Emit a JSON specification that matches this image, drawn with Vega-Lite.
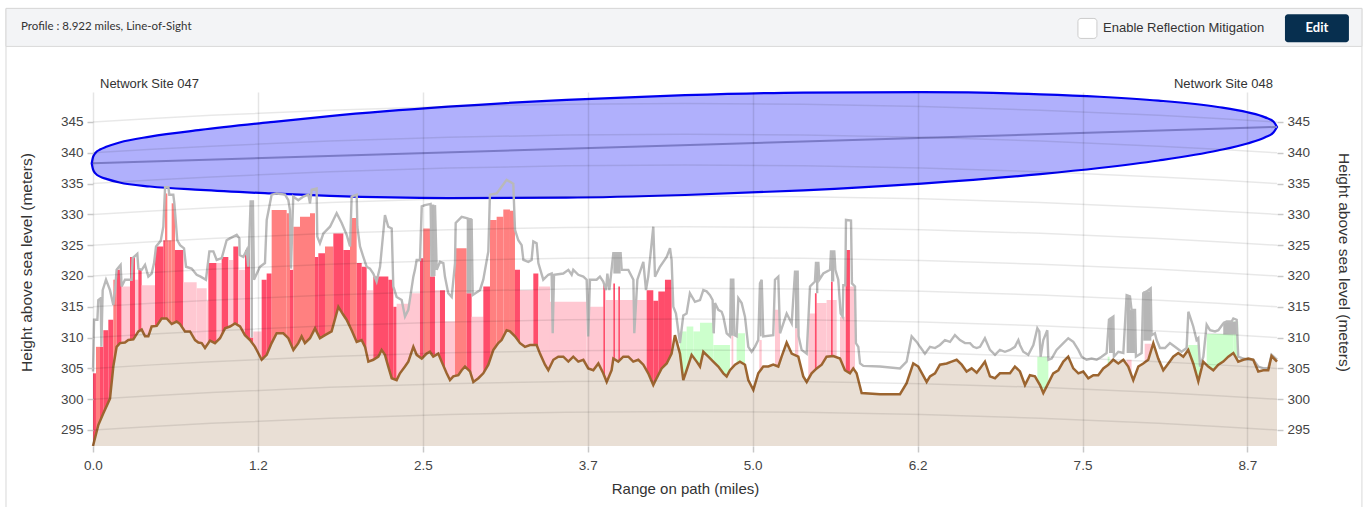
{
"$schema": "https://vega.github.io/schema/vega-lite/v6.json",
"width": 1184, "height": 354,
"autosize": {"type": "none"},
"padding": {"left": 93, "top": 92, "right": 89, "bottom": 61},
"background": "white",
"config": {"view": {"stroke": null}},
"datasets": {
"ground": [
{"d":0,"g":292.4},{"d":0.040,"g":295.8},{"d":0.078,"g":297.7},{"d":0.128,"g":300.1},{"d":0.153,"g":305.3},{"d":0.178,"g":308.5},{"d":0.203,"g":309.1},{"d":0.241,"g":309.2},{"d":0.266,"g":309.6},{"d":0.304,"g":309.7},{"d":0.342,"g":311.0},{"d":0.367,"g":311.3},{"d":0.392,"g":310.2},{"d":0.417,"g":310.2},{"d":0.442,"g":311.8},{"d":0.480,"g":311.9},{"d":0.517,"g":313.1},{"d":0.555,"g":313.1},{"d":0.593,"g":312.2},{"d":0.630,"g":312.6},{"d":0.656,"g":312.2},{"d":0.693,"g":311.0},{"d":0.731,"g":311.0},{"d":0.769,"g":309.6},{"d":0.794,"g":309.2},{"d":0.819,"g":309.1},{"d":0.844,"g":308.3},{"d":0.882,"g":309.5},{"d":0.919,"g":309.1},{"d":0.957,"g":309.9},{"d":0.995,"g":311.5},{"d":1.032,"g":311.8},{"d":1.070,"g":312.3},{"d":1.108,"g":311.8},{"d":1.145,"g":310.4},{"d":1.183,"g":309.6},{"d":1.221,"g":308.5},{"d":1.271,"g":306.4},{"d":1.309,"g":307.2},{"d":1.346,"g":309.1},{"d":1.384,"g":310.7},{"d":1.434,"g":310.7},{"d":1.472,"g":309.9},{"d":1.510,"g":308.0},{"d":1.547,"g":309.1},{"d":1.572,"g":310.2},{"d":1.597,"g":309.1},{"d":1.635,"g":309.9},{"d":1.673,"g":311.5},{"d":1.710,"g":309.9},{"d":1.748,"g":310.4},{"d":1.798,"g":311.0},{"d":1.849,"g":315.0},{"d":1.886,"g":313.7},{"d":1.911,"g":312.9},{"d":1.949,"g":311.2},{"d":1.987,"g":309.3},{"d":2.024,"g":309.6},{"d":2.050,"g":308.5},{"d":2.075,"g":306.1},{"d":2.112,"g":306.4},{"d":2.150,"g":306.9},{"d":2.175,"g":308.0},{"d":2.200,"g":307.2},{"d":2.225,"g":305.3},{"d":2.251,"g":303.4},{"d":2.288,"g":303.1},{"d":2.313,"g":304.2},{"d":2.351,"g":305.3},{"d":2.376,"g":306.1},{"d":2.414,"g":308.5},{"d":2.439,"g":307.2},{"d":2.477,"g":306.6},{"d":2.514,"g":307.4},{"d":2.539,"g":307.7},{"d":2.564,"g":306.9},{"d":2.602,"g":307.4},{"d":2.627,"g":306.1},{"d":2.665,"g":304.2},{"d":2.690,"g":303.1},{"d":2.715,"g":303.7},{"d":2.753,"g":303.9},{"d":2.778,"g":304.7},{"d":2.803,"g":305.3},{"d":2.841,"g":304.5},{"d":2.866,"g":302.8},{"d":2.904,"g":303.4},{"d":2.941,"g":304.2},{"d":2.979,"g":305.6},{"d":3.017,"g":308.0},{"d":3.054,"g":309.1},{"d":3.079,"g":309.6},{"d":3.117,"g":311.2},{"d":3.142,"g":311.0},{"d":3.180,"g":310.2},{"d":3.218,"g":309.1},{"d":3.255,"g":308.5},{"d":3.293,"g":308.8},{"d":3.343,"g":308.8},{"d":3.368,"g":307.4},{"d":3.406,"g":305.6},{"d":3.431,"g":304.7},{"d":3.469,"g":306.4},{"d":3.506,"g":306.9},{"d":3.544,"g":306.9},{"d":3.582,"g":306.1},{"d":3.619,"g":306.9},{"d":3.657,"g":306.1},{"d":3.695,"g":306.4},{"d":3.732,"g":305.0},{"d":3.770,"g":304.7},{"d":3.808,"g":305.8},{"d":3.845,"g":304.2},{"d":3.871,"g":302.8},{"d":3.908,"g":304.7},{"d":3.921,"g":306.6},{"d":3.958,"g":306.1},{"d":3.996,"g":306.9},{"d":4.034,"g":306.9},{"d":4.071,"g":306.1},{"d":4.109,"g":306.4},{"d":4.147,"g":305.6},{"d":4.184,"g":304.2},{"d":4.222,"g":302.3},{"d":4.247,"g":303.4},{"d":4.285,"g":305.0},{"d":4.323,"g":305.8},{"d":4.360,"g":307.4},{"d":4.385,"g":310.4},{"d":4.423,"g":307.4},{"d":4.448,"g":303.1},{"d":4.473,"g":304.7},{"d":4.511,"g":307.2},{"d":4.549,"g":306.1},{"d":4.574,"g":305.3},{"d":4.599,"g":307.7},{"d":4.637,"g":306.9},{"d":4.674,"g":306.1},{"d":4.712,"g":305.3},{"d":4.750,"g":304.2},{"d":4.775,"g":303.7},{"d":4.800,"g":304.7},{"d":4.838,"g":305.6},{"d":4.875,"g":306.1},{"d":4.913,"g":305.6},{"d":4.938,"g":303.1},{"d":4.976,"g":301.5},{"d":5.013,"g":304.2},{"d":5.051,"g":305.3},{"d":5.089,"g":305.3},{"d":5.126,"g":305.6},{"d":5.164,"g":305.3},{"d":5.189,"g":306.9},{"d":5.227,"g":309.2},{"d":5.265,"g":307.4},{"d":5.315,"g":306.9},{"d":5.352,"g":303.7},{"d":5.378,"g":302.8},{"d":5.415,"g":304.2},{"d":5.453,"g":305.0},{"d":5.491,"g":305.6},{"d":5.528,"g":306.9},{"d":5.578,"g":307.0},{"d":5.629,"g":306.6},{"d":5.666,"g":304.7},{"d":5.704,"g":304.2},{"d":5.729,"g":305.0},{"d":5.754,"g":304.2},{"d":5.792,"g":301.0},{"d":5.930,"g":300.8},{"d":6.081,"g":300.8},{"d":6.131,"g":302.6},{"d":6.181,"g":305.8},{"d":6.219,"g":305.3},{"d":6.282,"g":302.8},{"d":6.307,"g":303.7},{"d":6.345,"g":304.2},{"d":6.382,"g":305.6},{"d":6.433,"g":305.8},{"d":6.470,"g":306.1},{"d":6.508,"g":306.4},{"d":6.546,"g":305.6},{"d":6.583,"g":304.5},{"d":6.621,"g":305.0},{"d":6.659,"g":304.3},{"d":6.684,"g":305.0},{"d":6.721,"g":306.1},{"d":6.759,"g":303.7},{"d":6.797,"g":303.4},{"d":6.834,"g":304.2},{"d":6.872,"g":304.2},{"d":6.910,"g":304.2},{"d":6.947,"g":305.3},{"d":6.985,"g":304.5},{"d":7.023,"g":302.3},{"d":7.060,"g":303.9},{"d":7.098,"g":303.7},{"d":7.136,"g":302.3},{"d":7.161,"g":301.0},{"d":7.199,"g":302.6},{"d":7.236,"g":304.2},{"d":7.274,"g":304.7},{"d":7.312,"g":306.1},{"d":7.349,"g":306.9},{"d":7.387,"g":305.0},{"d":7.425,"g":304.2},{"d":7.462,"g":304.5},{"d":7.500,"g":303.4},{"d":7.538,"g":303.9},{"d":7.575,"g":303.9},{"d":7.613,"g":305.0},{"d":7.651,"g":305.6},{"d":7.688,"g":306.4},{"d":7.726,"g":305.8},{"d":7.764,"g":306.4},{"d":7.801,"g":305.3},{"d":7.839,"g":303.1},{"d":7.877,"g":305.3},{"d":7.914,"g":305.8},{"d":7.952,"g":306.4},{"d":7.990,"g":309.1},{"d":8.027,"g":306.6},{"d":8.065,"g":304.7},{"d":8.103,"g":305.8},{"d":8.140,"g":306.9},{"d":8.178,"g":307.5},{"d":8.216,"g":306.9},{"d":8.253,"g":308.0},{"d":8.291,"g":305.8},{"d":8.329,"g":302.9},{"d":8.366,"g":306.1},{"d":8.404,"g":305.3},{"d":8.442,"g":304.7},{"d":8.480,"g":305.6},{"d":8.517,"g":306.1},{"d":8.555,"g":306.9},{"d":8.593,"g":307.5},{"d":8.630,"g":306.1},{"d":8.668,"g":306.4},{"d":8.706,"g":306.6},{"d":8.743,"g":306.4},{"d":8.781,"g":304.5},{"d":8.819,"g":304.7},{"d":8.856,"g":304.7},{"d":8.881,"g":307.0},{"d":8.922,"g":306.1}
],
"clutter": [
{"d":0.000,"c":304.5},{"d":0.008,"c":312.9},{"d":0.033,"c":312.9},{"d":0.040,"c":316.1},{"d":0.058,"c":316.4},{"d":0.063,"c":308.5},{"d":0.073,"c":317.7},{"d":0.098,"c":319.4},{"d":0.128,"c":317.7},{"d":0.153,"c":315.3},{"d":0.166,"c":317.7},{"d":0.178,"c":321.0},{"d":0.208,"c":321.8},{"d":0.216,"c":318.3},{"d":0.241,"c":319.4},{"d":0.291,"c":319.4},{"d":0.299,"c":322.9},{"d":0.334,"c":323.6},{"d":0.342,"c":321.2},{"d":0.367,"c":321.0},{"d":0.392,"c":321.8},{"d":0.417,"c":319.9},{"d":0.442,"c":320.4},{"d":0.460,"c":322.1},{"d":0.475,"c":324.8},{"d":0.510,"c":325.7},{"d":0.530,"c":328.0},{"d":0.543,"c":334.4},{"d":0.568,"c":334.4},{"d":0.575,"c":333.2},{"d":0.605,"c":333.2},{"d":0.613,"c":331.8},{"d":0.635,"c":325.8},{"d":0.656,"c":325.0},{"d":0.686,"c":324.5},{"d":0.701,"c":321.5},{"d":0.743,"c":321.2},{"d":0.781,"c":320.2},{"d":0.811,"c":319.9},{"d":0.851,"c":319.4},{"d":0.877,"c":324.0},{"d":0.907,"c":324.0},{"d":0.932,"c":322.6},{"d":0.970,"c":322.9},{"d":1.007,"c":325.8},{"d":1.032,"c":326.1},{"d":1.083,"c":326.7},{"d":1.103,"c":326.1},{"d":1.105,"c":323.4},{"d":1.133,"c":323.1},{"d":1.158,"c":324.2},{"d":1.170,"c":321.5},{"d":1.188,"c":332.1},{"d":1.205,"c":332.1},{"d":1.213,"c":319.4},{"d":1.258,"c":321.5},{"d":1.296,"c":322.1},{"d":1.309,"c":329.1},{"d":1.346,"c":333.2},{"d":1.384,"c":333.4},{"d":1.447,"c":333.2},{"d":1.472,"c":332.3},{"d":1.484,"c":330.7},{"d":1.492,"c":321.2},{"d":1.509,"c":332.9},{"d":1.547,"c":332.3},{"d":1.585,"c":332.9},{"d":1.623,"c":333.2},{"d":1.635,"c":331.8},{"d":1.648,"c":334.0},{"d":1.685,"c":334.2},{"d":1.690,"c":326.4},{"d":1.710,"c":325.3},{"d":1.736,"c":326.9},{"d":1.786,"c":328.0},{"d":1.811,"c":329.1},{"d":1.836,"c":330.2},{"d":1.874,"c":328.6},{"d":1.911,"c":326.7},{"d":1.937,"c":324.8},{"d":1.949,"c":332.9},{"d":1.987,"c":333.2},{"d":1.992,"c":328.0},{"d":2.012,"c":324.8},{"d":2.037,"c":323.1},{"d":2.062,"c":321.5},{"d":2.087,"c":321.2},{"d":2.112,"c":320.4},{"d":2.137,"c":319.1},{"d":2.163,"c":321.5},{"d":2.200,"c":329.9},{"d":2.225,"c":328.0},{"d":2.251,"c":327.7},{"d":2.263,"c":318.3},{"d":2.288,"c":316.6},{"d":2.326,"c":316.1},{"d":2.351,"c":313.4},{"d":2.376,"c":314.5},{"d":2.414,"c":319.9},{"d":2.426,"c":321.0},{"d":2.439,"c":322.6},{"d":2.464,"c":322.6},{"d":2.477,"c":331.3},{"d":2.502,"c":331.5},{"d":2.544,"c":331.7},{"d":2.552,"c":320.2},{"d":2.572,"c":320.2},{"d":2.577,"c":331.5},{"d":2.590,"c":321.0},{"d":2.615,"c":322.3},{"d":2.640,"c":322.1},{"d":2.652,"c":319.9},{"d":2.677,"c":317.2},{"d":2.703,"c":316.6},{"d":2.728,"c":322.1},{"d":2.733,"c":328.6},{"d":2.778,"c":329.6},{"d":2.816,"c":329.4},{"d":2.853,"c":329.1},{"d":2.861,"c":316.9},{"d":2.916,"c":317.7},{"d":2.941,"c":319.4},{"d":2.979,"c":324.0},{"d":2.991,"c":333.2},{"d":3.042,"c":333.4},{"d":3.079,"c":334.5},{"d":3.117,"c":335.6},{"d":3.167,"c":335.0},{"d":3.180,"c":327.5},{"d":3.205,"c":325.8},{"d":3.230,"c":325.0},{"d":3.243,"c":322.6},{"d":3.280,"c":322.3},{"d":3.305,"c":322.6},{"d":3.318,"c":325.6},{"d":3.343,"c":325.3},{"d":3.356,"c":322.1},{"d":3.393,"c":319.4},{"d":3.431,"c":320.2},{"d":3.456,"c":320.4},{"d":3.464,"c":310.7},{"d":3.474,"c":320.2},{"d":3.544,"c":320.4},{"d":3.582,"c":321.0},{"d":3.607,"c":320.2},{"d":3.619,"c":321.0},{"d":3.657,"c":320.2},{"d":3.695,"c":319.9},{"d":3.720,"c":319.4},{"d":3.732,"c":310.2},{"d":3.745,"c":319.4},{"d":3.795,"c":319.4},{"d":3.820,"c":319.9},{"d":3.845,"c":319.1},{"d":3.866,"c":317.7},{"d":3.876,"c":320.4},{"d":3.891,"c":317.7},{"d":3.921,"c":323.7},{"d":3.976,"c":323.7},{"d":3.984,"c":321.0},{"d":4.034,"c":321.0},{"d":4.072,"c":319.4},{"d":4.079,"c":310.7},{"d":4.102,"c":319.4},{"d":4.147,"c":322.3},{"d":4.167,"c":317.7},{"d":4.184,"c":319.9},{"d":4.222,"c":328.0},{"d":4.235,"c":319.9},{"d":4.272,"c":321.5},{"d":4.323,"c":323.1},{"d":4.348,"c":324.5},{"d":4.360,"c":322.6},{"d":4.373,"c":315.0},{"d":4.393,"c":313.9},{"d":4.423,"c":309.1},{"d":4.448,"c":313.6},{"d":4.473,"c":313.9},{"d":4.498,"c":317.2},{"d":4.536,"c":315.8},{"d":4.574,"c":316.1},{"d":4.599,"c":317.7},{"d":4.624,"c":317.5},{"d":4.649,"c":316.9},{"d":4.669,"c":316.1},{"d":4.677,"c":310.7},{"d":4.687,"c":315.6},{"d":4.712,"c":314.5},{"d":4.737,"c":314.2},{"d":4.750,"c":313.4},{"d":4.775,"c":310.7},{"d":4.800,"c":310.2},{"d":4.807,"c":319.4},{"d":4.825,"c":319.4},{"d":4.833,"c":310.4},{"d":4.850,"c":310.2},{"d":4.863,"c":316.4},{"d":4.888,"c":315.6},{"d":4.913,"c":313.4},{"d":4.938,"c":308.5},{"d":4.963,"c":307.7},{"d":4.988,"c":308.5},{"d":5.013,"c":309.6},{"d":5.026,"c":318.8},{"d":5.039,"c":319.4},{"d":5.051,"c":310.2},{"d":5.126,"c":310.4},{"d":5.139,"c":319.4},{"d":5.164,"c":319.9},{"d":5.177,"c":310.7},{"d":5.227,"c":313.9},{"d":5.265,"c":312.3},{"d":5.290,"c":320.7},{"d":5.310,"c":320.7},{"d":5.317,"c":310.2},{"d":5.340,"c":308.0},{"d":5.378,"c":307.4},{"d":5.403,"c":318.3},{"d":5.440,"c":319.1},{"d":5.448,"c":322.1},{"d":5.466,"c":322.1},{"d":5.473,"c":319.4},{"d":5.503,"c":320.4},{"d":5.554,"c":321.0},{"d":5.561,"c":324.0},{"d":5.586,"c":324.0},{"d":5.594,"c":321.0},{"d":5.616,"c":319.4},{"d":5.634,"c":313.9},{"d":5.649,"c":313.4},{"d":5.654,"c":318.5},{"d":5.669,"c":318.5},{"d":5.674,"c":329.1},{"d":5.712,"c":329.0},{"d":5.719,"c":318.8},{"d":5.742,"c":318.3},{"d":5.749,"c":309.1},{"d":5.767,"c":308.5},{"d":5.780,"c":305.8},{"d":5.805,"c":305.4},{"d":5.930,"c":305.3},{"d":6.081,"c":305.0},{"d":6.131,"c":306.1},{"d":6.169,"c":310.2},{"d":6.207,"c":309.3},{"d":6.232,"c":308.5},{"d":6.269,"c":307.4},{"d":6.307,"c":308.5},{"d":6.345,"c":308.3},{"d":6.382,"c":308.8},{"d":6.420,"c":309.6},{"d":6.458,"c":309.3},{"d":6.495,"c":310.4},{"d":6.533,"c":309.6},{"d":6.571,"c":309.1},{"d":6.609,"c":309.1},{"d":6.634,"c":308.5},{"d":6.659,"c":308.3},{"d":6.684,"c":308.5},{"d":6.721,"c":309.9},{"d":6.759,"c":308.0},{"d":6.797,"c":307.2},{"d":6.834,"c":308.0},{"d":6.872,"c":307.7},{"d":6.910,"c":308.0},{"d":6.947,"c":308.5},{"d":6.973,"c":309.6},{"d":6.985,"c":308.8},{"d":7.010,"c":307.7},{"d":7.048,"c":307.2},{"d":7.086,"c":308.8},{"d":7.116,"c":311.5},{"d":7.131,"c":311.0},{"d":7.141,"c":306.9},{"d":7.161,"c":309.6},{"d":7.191,"c":311.2},{"d":7.199,"c":306.4},{"d":7.224,"c":306.6},{"d":7.261,"c":308.0},{"d":7.312,"c":309.1},{"d":7.349,"c":309.9},{"d":7.387,"c":309.3},{"d":7.425,"c":308.0},{"d":7.450,"c":306.9},{"d":7.487,"c":306.4},{"d":7.525,"c":306.6},{"d":7.563,"c":306.4},{"d":7.600,"c":306.9},{"d":7.638,"c":307.5},{"d":7.656,"c":312.9},{"d":7.689,"c":313.4},{"d":7.693,"c":306.9},{"d":7.726,"c":307.7},{"d":7.764,"c":307.5},{"d":7.789,"c":316.9},{"d":7.814,"c":316.7},{"d":7.826,"c":314.5},{"d":7.852,"c":314.5},{"d":7.859,"c":306.9},{"d":7.902,"c":307.5},{"d":7.914,"c":317.2},{"d":7.940,"c":317.5},{"d":7.970,"c":318.0},{"d":7.977,"c":310.4},{"d":8.002,"c":310.7},{"d":8.015,"c":309.6},{"d":8.040,"c":308.3},{"d":8.078,"c":308.3},{"d":8.115,"c":309.1},{"d":8.153,"c":308.5},{"d":8.203,"c":307.7},{"d":8.241,"c":308.3},{"d":8.254,"c":314.2},{"d":8.279,"c":312.6},{"d":8.291,"c":311.8},{"d":8.316,"c":309.6},{"d":8.329,"c":309.9},{"d":8.342,"c":305.3},{"d":8.367,"c":306.9},{"d":8.392,"c":312.1},{"d":8.417,"c":311.2},{"d":8.455,"c":311.0},{"d":8.480,"c":311.2},{"d":8.517,"c":312.3},{"d":8.542,"c":312.6},{"d":8.580,"c":312.6},{"d":8.593,"c":313.1},{"d":8.618,"c":312.9},{"d":8.630,"c":306.9},{"d":8.668,"c":306.6},{"d":8.706,"c":306.4},{"d":8.743,"c":306.4},{"d":8.781,"c":305.3},{"d":8.819,"c":305.0},{"d":8.856,"c":305.0},{"d":8.881,"c":307.2},{"d":8.922,"c":306.4}
],
"fill": [
{"d1":0,"d2":0.0226,"t":304.2,"b":292.4,"k":"R"},{"d1":0.0226,"d2":0.0527,"t":308.5,"b":292.4,"k":"S"},{"d1":0.0527,"d2":0.0779,"t":308.5,"b":292.4,"k":"R"},{"d1":0.0779,"d2":0.1155,"t":311.2,"b":292.4,"k":"R"},{"d1":0.1155,"d2":0.1532,"t":312.9,"b":292.4,"k":"R"},{"d1":0.1532,"d2":0.1783,"t":319.4,"b":292.4,"k":"S"},{"d1":0.1783,"d2":0.2160,"t":321.0,"b":292.4,"k":"R"},{"d1":0.2160,"d2":0.2788,"t":318.3,"b":292.4,"k":"P"},{"d1":0.2788,"d2":0.3165,"t":323.1,"b":292.4,"k":"R"},{"d1":0.3165,"d2":0.3416,"t":319.4,"b":292.4,"k":"P"},{"d1":0.3416,"d2":0.3667,"t":321.0,"b":292.4,"k":"R"},{"d1":0.3667,"d2":0.4672,"t":318.5,"b":292.4,"k":"P"},{"d1":0.4672,"d2":0.5300,"t":324.8,"b":292.4,"k":"R"},{"d1":0.5300,"d2":0.5425,"t":325.8,"b":292.4,"k":"R"},{"d1":0.5425,"d2":0.5601,"t":333.4,"b":292.4,"k":"S"},{"d1":0.5601,"d2":0.5677,"t":325.8,"b":292.4,"k":"R"},{"d1":0.5677,"d2":0.5928,"t":325.8,"b":292.4,"k":"S"},{"d1":0.5928,"d2":0.6179,"t":331.8,"b":292.4,"k":"S"},{"d1":0.6179,"d2":0.6807,"t":324.2,"b":292.4,"k":"R"},{"d1":0.6807,"d2":0.7811,"t":319.0,"b":292.4,"k":"P"},{"d1":0.7811,"d2":0.8565,"t":318.0,"b":292.4,"k":"P"},{"d1":0.8565,"d2":0.8691,"t":316.0,"b":292.4,"k":"P"},{"d1":0.8691,"d2":0.9319,"t":322.1,"b":292.4,"k":"R"},{"d1":0.9319,"d2":0.9695,"t":322.1,"b":292.4,"k":"P"},{"d1":0.9695,"d2":1.0198,"t":323.1,"b":292.4,"k":"R"},{"d1":1.0198,"d2":1.0574,"t":322.6,"b":292.4,"k":"P"},{"d1":1.0574,"d2":1.0951,"t":324.8,"b":292.4,"k":"R"},{"d1":1.0951,"d2":1.1454,"t":321.0,"b":292.4,"k":"P"},{"d1":1.1454,"d2":1.1830,"t":324.2,"b":292.4,"k":"R"},{"d1":1.1830,"d2":1.2081,"t":310.0,"b":292.4,"k":"R"},{"d1":1.2081,"d2":1.2709,"t":311.0,"b":292.4,"k":"P"},{"d1":1.2709,"d2":1.3086,"t":319.4,"b":292.4,"k":"R"},{"d1":1.3086,"d2":1.3463,"t":320.4,"b":292.4,"k":"R"},{"d1":1.3463,"d2":1.4091,"t":330.7,"b":292.4,"k":"S"},{"d1":1.4091,"d2":1.4593,"t":330.7,"b":292.4,"k":"S"},{"d1":1.4593,"d2":1.4845,"t":330.2,"b":292.4,"k":"S"},{"d1":1.4845,"d2":1.5096,"t":321.0,"b":292.4,"k":"R"},{"d1":1.5096,"d2":1.5598,"t":328.0,"b":292.4,"k":"S"},{"d1":1.5598,"d2":1.6352,"t":329.6,"b":292.4,"k":"S"},{"d1":1.6352,"d2":1.6728,"t":330.2,"b":292.4,"k":"S"},{"d1":1.6728,"d2":1.6979,"t":323.1,"b":292.4,"k":"R"},{"d1":1.6979,"d2":1.7482,"t":323.7,"b":292.4,"k":"R"},{"d1":1.7482,"d2":1.8110,"t":324.8,"b":292.4,"k":"S"},{"d1":1.8110,"d2":1.8863,"t":326.9,"b":292.4,"k":"R"},{"d1":1.8863,"d2":1.9366,"t":324.2,"b":292.4,"k":"R"},{"d1":1.9366,"d2":1.9868,"t":329.4,"b":292.4,"k":"S"},{"d1":1.9868,"d2":2.0245,"t":322.1,"b":292.4,"k":"R"},{"d1":2.0245,"d2":2.0622,"t":321.5,"b":292.4,"k":"R"},{"d1":2.0622,"d2":2.1124,"t":317.7,"b":292.4,"k":"P"},{"d1":2.1124,"d2":2.2254,"t":319.9,"b":292.4,"k":"R"},{"d1":2.2254,"d2":2.2631,"t":319.4,"b":292.4,"k":"R"},{"d1":2.2631,"d2":2.2882,"t":315.0,"b":292.4,"k":"R"},{"d1":2.2882,"d2":2.3886,"t":315.5,"b":292.4,"k":"P"},{"d1":2.3886,"d2":2.4640,"t":317.2,"b":292.4,"k":"P"},{"d1":2.4640,"d2":2.4891,"t":322.9,"b":292.4,"k":"R"},{"d1":2.4891,"d2":2.5394,"t":327.7,"b":292.4,"k":"S"},{"d1":2.5394,"d2":2.5770,"t":319.9,"b":292.4,"k":"R"},{"d1":2.5770,"d2":2.6147,"t":317.7,"b":292.4,"k":"P"},{"d1":2.6147,"d2":2.6524,"t":317.7,"b":292.4,"k":"R"},{"d1":2.6524,"d2":2.7277,"t":312.6,"b":292.4,"k":"P"},{"d1":2.7277,"d2":2.8156,"t":324.5,"b":292.4,"k":"S"},{"d1":2.8156,"d2":2.8533,"t":317.2,"b":292.4,"k":"R"},{"d1":2.8533,"d2":2.9412,"t":313.4,"b":292.4,"k":"P"},{"d1":2.9412,"d2":2.9915,"t":318.3,"b":292.4,"k":"R"},{"d1":2.9915,"d2":3.0417,"t":329.1,"b":292.4,"k":"S"},{"d1":3.0417,"d2":3.0919,"t":329.6,"b":292.4,"k":"S"},{"d1":3.0919,"d2":3.1421,"t":330.8,"b":292.4,"k":"S"},{"d1":3.1421,"d2":3.1798,"t":330.6,"b":292.4,"k":"S"},{"d1":3.1798,"d2":3.2175,"t":321.0,"b":292.4,"k":"R"},{"d1":3.2175,"d2":3.3180,"t":317.7,"b":292.4,"k":"P"},{"d1":3.3180,"d2":3.3557,"t":320.4,"b":292.4,"k":"R"},{"d1":3.3557,"d2":3.4436,"t":318.3,"b":292.4,"k":"P"},{"d1":3.4436,"d2":3.7199,"t":315.8,"b":292.4,"k":"P"},{"d1":3.7199,"d2":3.8454,"t":315.0,"b":292.4,"k":"P"},{"d1":3.8454,"d2":3.8600,"t":318.8,"b":292.4,"k":"R"},{"d1":3.8600,"d2":3.9208,"t":316.1,"b":292.4,"k":"P"},{"d1":3.9208,"d2":3.9334,"t":318.8,"b":292.4,"k":"R"},{"d1":3.9334,"d2":3.9584,"t":316.1,"b":292.4,"k":"P"},{"d1":3.9584,"d2":3.9710,"t":318.3,"b":292.4,"k":"R"},{"d1":3.9710,"d2":4.1720,"t":316.1,"b":292.4,"k":"P"},{"d1":4.1720,"d2":4.2222,"t":317.7,"b":292.4,"k":"R"},{"d1":4.2222,"d2":4.2600,"t":316.0,"b":292.4,"k":"R"},{"d1":4.2600,"d2":4.3100,"t":317.5,"b":292.4,"k":"R"},{"d1":4.3100,"d2":4.3604,"t":319.4,"b":292.4,"k":"R"},{"d1":4.4232,"d2":4.4734,"t":311.0,"b":292.4,"k":"G"},{"d1":4.4734,"d2":4.5237,"t":311.8,"b":292.4,"k":"G"},{"d1":4.5237,"d2":4.5739,"t":311.0,"b":292.4,"k":"G"},{"d1":4.5739,"d2":4.6744,"t":312.4,"b":292.4,"k":"G"},{"d1":4.6744,"d2":4.7997,"t":308.8,"b":292.4,"k":"G"},{"d1":4.8116,"d2":4.8250,"t":310.3,"b":292.4,"k":"P"},{"d1":4.8500,"d2":4.9130,"t":310.7,"b":292.4,"k":"G"},{"d1":5.0210,"d2":5.0390,"t":309.6,"b":292.4,"k":"P"},{"d1":5.1390,"d2":5.1770,"t":314.5,"b":292.4,"k":"P"},{"d1":5.2900,"d2":5.3150,"t":311.5,"b":292.4,"k":"P"},{"d1":5.3900,"d2":5.4530,"t":313.9,"b":292.4,"k":"P"},{"d1":5.4530,"d2":5.5280,"t":315.6,"b":292.4,"k":"P"},{"d1":5.5280,"d2":5.6040,"t":316.1,"b":292.4,"k":"P"},{"d1":5.4400,"d2":5.4530,"t":317.2,"b":292.4,"k":"R"},{"d1":5.5610,"d2":5.5740,"t":319.1,"b":292.4,"k":"R"},{"d1":5.6290,"d2":5.6660,"t":313.4,"b":292.4,"k":"P"},{"d1":5.6710,"d2":5.7040,"t":324.2,"b":292.4,"k":"R"},{"d1":5.7040,"d2":5.7420,"t":318.3,"b":292.4,"k":"P"},{"d1":7.116,"d2":7.199,"t":306.9,"b":292.4,"k":"G"},{"d1":7.646,"d2":7.660,"t":306.9,"b":292.4,"k":"G"},{"d1":7.789,"d2":7.826,"t":306.4,"b":292.4,"k":"P"},{"d1":7.925,"d2":7.977,"t":309.0,"b":292.4,"k":"P"},{"d1":8.254,"d2":8.342,"t":308.8,"b":292.4,"k":"G"},{"d1":8.392,"d2":8.593,"t":310.6,"b":292.4,"k":"G"},{"d1":8.593,"d2":8.630,"t":312.6,"b":292.4,"k":"G"},
{"d1":1.188,"d2":1.205,"t":332.1,"b":310.0,"k":"Y"},{"d1":2.544,"d2":2.572,"t":331.6,"b":319.9,"k":"Y"},{"d1":2.816,"d2":2.853,"t":329.4,"b":317.2,"k":"Y"},{"d1":3.921,"d2":3.976,"t":323.7,"b":320.4,"k":"Y"},{"d1":4.674,"d2":4.687,"t":315.6,"b":310.7,"k":"Y"},{"d1":4.807,"d2":4.825,"t":319.3,"b":310.3,"k":"Y"},{"d1":5.026,"d2":5.039,"t":319.3,"b":310.2,"k":"Y"},{"d1":5.290,"d2":5.310,"t":320.7,"b":311.5,"k":"Y"},{"d1":5.448,"d2":5.466,"t":322.0,"b":317.2,"k":"Y"},{"d1":5.561,"d2":5.586,"t":323.9,"b":319.1,"k":"Y"},{"d1":7.656,"d2":7.693,"t":313.2,"b":307.5,"k":"Y"},{"d1":7.789,"d2":7.814,"t":316.8,"b":307.5,"k":"Y"},{"d1":7.814,"d2":7.855,"t":314.5,"b":307.5,"k":"Y"},{"d1":7.914,"d2":7.975,"t":317.5,"b":309.5,"k":"Y"},{"d1":8.517,"d2":8.618,"t":312.6,"b":310.5,"k":"Y"}
],
"zone": [
{"d":-0.01,"hi":338.29,"lo":338.29},{"d":0,"hi":339.3,"lo":337.3},{"d":0.02,"hi":340.01,"lo":336.61},{"d":0.053,"hi":340.53,"lo":336.13},{"d":0.1,"hi":340.97,"lo":335.77},{"d":0.2,"hi":341.68,"lo":335.18},{"d":0.43,"hi":342.63,"lo":334.53},{"d":0.81,"hi":343.71,"lo":333.97},{"d":1.338,"hi":344.97,"lo":333.40},{"d":1.784,"hi":345.96,"lo":333.00},{"d":2.677,"hi":347.49,"lo":332.65},{"d":3.569,"hi":348.60,"lo":332.72},{"d":4.461,"hi":349.35,"lo":333.15},{"d":5.353,"hi":349.78,"lo":333.90},{"d":6.245,"hi":349.85,"lo":335.01},{"d":7.138,"hi":349.50,"lo":336.54},{"d":7.584,"hi":349.10,"lo":337.53},{"d":8.030,"hi":348.47,"lo":338.75},{"d":8.476,"hi":347.44,"lo":340.37},{"d":8.699,"hi":346.58,"lo":341.52},{"d":8.833,"hi":345.75,"lo":342.53},{"d":8.895,"hi":345.07,"lo":343.29},{"d":8.922,"hi":344.2,"lo":344.2}
],
"los": [{"d":0,"v":338.3},{"d":8.922,"v":344.2}],
"curves": [
{"d":0,"g295":295,"g300":300,"g305":305,"g310":310,"g315":315,"g320":320,"g325":325,"g330":330,"g335":335,"g340":340,"g345":345},
{"d":0.446,"g295":295.57,"g300":300.57,"g305":305.57,"g310":310.57,"g315":315.57,"g320":320.57,"g325":325.57,"g330":330.57,"g335":335.57,"g340":340.57,"g345":345.57},
{"d":0.892,"g295":296.08,"g300":301.08,"g305":306.08,"g310":311.08,"g315":316.08,"g320":321.08,"g325":326.08,"g330":331.08,"g335":336.08,"g340":341.08,"g345":346.08},
{"d":1.784,"g295":296.92,"g300":301.92,"g305":306.92,"g310":311.92,"g315":316.92,"g320":321.92,"g325":326.92,"g330":331.92,"g335":336.92,"g340":341.92,"g345":346.92},
{"d":2.677,"g295":297.52,"g300":302.52,"g305":307.52,"g310":312.52,"g315":317.52,"g320":322.52,"g325":327.52,"g330":332.52,"g335":337.52,"g340":342.52,"g345":347.52},
{"d":3.569,"g295":297.88,"g300":302.88,"g305":307.88,"g310":312.88,"g315":317.88,"g320":322.88,"g325":327.88,"g330":332.88,"g335":337.88,"g340":342.88,"g345":347.88},
{"d":4.461,"g295":298.0,"g300":303.0,"g305":308.0,"g310":313.0,"g315":318.0,"g320":323.0,"g325":328.0,"g330":333.0,"g335":338.0,"g340":343.0,"g345":348.0},
{"d":5.353,"g295":297.88,"g300":302.88,"g305":307.88,"g310":312.88,"g315":317.88,"g320":322.88,"g325":327.88,"g330":332.88,"g335":337.88,"g340":342.88,"g345":347.88},
{"d":6.245,"g295":297.52,"g300":302.52,"g305":307.52,"g310":312.52,"g315":317.52,"g320":322.52,"g325":327.52,"g330":332.52,"g335":337.52,"g340":342.52,"g345":347.52},
{"d":7.138,"g295":296.92,"g300":301.92,"g305":306.92,"g310":311.92,"g315":316.92,"g320":321.92,"g325":326.92,"g330":331.92,"g335":336.92,"g340":341.92,"g345":346.92},
{"d":8.030,"g295":296.08,"g300":301.08,"g305":306.08,"g310":311.08,"g315":316.08,"g320":321.08,"g325":326.08,"g330":331.08,"g335":336.08,"g340":341.08,"g345":346.08},
{"d":8.476,"g295":295.57,"g300":300.57,"g305":305.57,"g310":310.57,"g315":315.57,"g320":320.57,"g325":325.57,"g330":330.57,"g335":335.57,"g340":340.57,"g345":345.57},
{"d":8.922,"g295":295,"g300":300,"g305":305,"g310":310,"g315":315,"g320":320,"g325":325,"g330":330,"g335":335,"g340":340,"g345":345}
],
"one": [{}]
},
"layer": [
{"data":{"name":"one"},"mark":{"type":"rect","fill":null,"fillOpacity":0,"stroke":"#d9d9d9","strokeWidth":1},
 "encoding":{"x":{"datum":-0.6556,"type":"quantitative","scale":{"domain":[0,8.922],"nice":false,"zero":false},"axis":null},"x2":{"datum":9.562},
 "y":{"datum":363.44,"type":"quantitative","scale":{"domain":[292.4,349.87],"nice":false,"zero":false},"axis":null},"y2":{"datum":280}}},
{"data":{"name":"one"},"mark":{"type":"rect","fill":"#f3f4f6","stroke":"#d9d9d9","strokeWidth":1},
 "encoding":{"x":{"datum":-0.6556,"type":"quantitative","scale":{"domain":[0,8.922],"nice":false,"zero":false},"axis":null},"x2":{"datum":9.562},
 "y":{"datum":363.44,"type":"quantitative","scale":{"domain":[292.4,349.87],"nice":false,"zero":false},"axis":null},"y2":{"datum":357.27}}},
{"data":{"name":"one"},"mark":{"type":"text","text":"Profile : 8.922 miles, Line-of-Sight","font":"Lato","fontSize":11.5,"color":"#333333","align":"left","baseline":"middle"},
 "encoding":{"x":{"datum":-0.5425,"type":"quantitative","scale":{"domain":[0,8.922],"nice":false,"zero":false},"axis":null},
 "y":{"datum":360.35,"type":"quantitative","scale":{"domain":[292.4,349.87],"nice":false,"zero":false},"axis":null}}},
{"data":{"name":"one"},"mark":{"type":"rect","fill":"white","stroke":"#cccccc","strokeWidth":1,"cornerRadius":3},
 "encoding":{"x":{"datum":7.422,"type":"quantitative","scale":{"domain":[0,8.922],"nice":false,"zero":false},"axis":null},"x2":{"datum":7.565},
 "y":{"datum":361.81,"type":"quantitative","scale":{"domain":[292.4,349.87],"nice":false,"zero":false},"axis":null},"y2":{"datum":358.57}}},
{"data":{"name":"one"},"mark":{"type":"text","text":"Enable Reflection Mitigation","font":"Liberation Sans","fontSize":13,"color":"#333333","align":"left","baseline":"middle"},
 "encoding":{"x":{"datum":7.611,"type":"quantitative","scale":{"domain":[0,8.922],"nice":false,"zero":false},"axis":null},
 "y":{"datum":360.19,"type":"quantitative","scale":{"domain":[292.4,349.87],"nice":false,"zero":false},"axis":null}}},
{"data":{"name":"one"},"mark":{"type":"rect","fill":"#072f4f","cornerRadius":3},
 "encoding":{"x":{"datum":8.982,"type":"quantitative","scale":{"domain":[0,8.922],"nice":false,"zero":false},"axis":null},"x2":{"datum":9.464},
 "y":{"datum":362.5,"type":"quantitative","scale":{"domain":[292.4,349.87],"nice":false,"zero":false},"axis":null},"y2":{"datum":357.95}}},
{"data":{"name":"one"},"mark":{"type":"text","text":"Edit","font":"Lato","fontSize":13,"fontWeight":"bold","color":"white","align":"center","baseline":"middle"},
 "encoding":{"x":{"datum":9.223,"type":"quantitative","scale":{"domain":[0,8.922],"nice":false,"zero":false},"axis":null},
 "y":{"datum":360.19,"type":"quantitative","scale":{"domain":[292.4,349.87],"nice":false,"zero":false},"axis":null}}},
{"data":{"name":"zone"},"mark":{"type":"area","fill":"#b0b0fc","stroke":"#0000f0","strokeWidth":2.2,"interpolate":"monotone"},
 "encoding":{"x":{"field":"d","type":"quantitative","scale":{"domain":[0,8.922],"nice":false,"zero":false},"axis":null},
 "y":{"field":"hi","type":"quantitative","scale":{"domain":[292.4,349.87],"nice":false,"zero":false},"axis":null},"y2":{"field":"lo"}}},
{"data":{"name":"los"},"mark":{"type":"line","color":"#7a7ac6","strokeWidth":2},
 "encoding":{"x":{"field":"d","type":"quantitative","scale":{"domain":[0,8.922],"nice":false,"zero":false},"axis":null},
 "y":{"field":"v","type":"quantitative","scale":{"domain":[292.4,349.87],"nice":false,"zero":false},"axis":null}}},
{"data":{"name":"fill"},"mark":{"type":"rect"},
 "encoding":{"x":{"field":"d1","type":"quantitative","scale":{"domain":[0,8.922],"nice":false,"zero":false},"axis":null},"x2":{"field":"d2"},
 "y":{"field":"t","type":"quantitative","scale":{"domain":[292.4,349.87],"nice":false,"zero":false},"axis":null},"y2":{"field":"b"},
 "color":{"field":"k","type":"nominal","legend":null,"scale":{"domain":["R","S","P","G","Y"],"range":["#ff4d6b","#ff8080","#ffc8d2","#ccffcc","#b6b6b6"]}}}},
{"data":{"name":"ground"},"mark":{"type":"area","color":"#e9dfd5","interpolate":"linear"},
 "encoding":{"x":{"field":"d","type":"quantitative","scale":{"domain":[0,8.922],"nice":false,"zero":false},"axis":null},
 "y":{"field":"g","type":"quantitative","scale":{"domain":[292.4,349.87],"nice":false,"zero":false},"axis":null},"y2":{"datum":292.4}}},
{"data":{"name":"clutter"},"mark":{"type":"line","color":"#b9b9b9","strokeWidth":2.4},
 "encoding":{"x":{"field":"d","type":"quantitative","scale":{"domain":[0,8.922],"nice":false,"zero":false},"axis":null},
 "y":{"field":"c","type":"quantitative","scale":{"domain":[292.4,349.87],"nice":false,"zero":false},
   "axis":{"orient":"right","values":[295,300,305,310,315,320,325,330,335,340,345],"title":"Height above sea level (meters)","titleY":170,"grid":false,"domain":false,"tickColor":"#c8c8c8","tickSize":6,"tickWidth":1.5,"labelFont":"Liberation Sans","labelFontSize":13.5,"labelColor":"#444444","labelPadding":4,"titleFont":"Liberation Sans","titleFontSize":15.5,"titleFontWeight":"normal","titleColor":"#333333","titlePadding":26,"zindex":1}}}},
{"data":{"name":"ground"},"mark":{"type":"line","color":"#9c6530","strokeWidth":2.5},
 "encoding":{"x":{"field":"d","type":"quantitative","scale":{"domain":[0,8.922],"nice":false,"zero":false},"axis":null},
 "y":{"field":"g","type":"quantitative","scale":{"domain":[292.4,349.87],"nice":false,"zero":false},
   "axis":{"orient":"left","values":[295,300,305,310,315,320,325,330,335,340,345],"title":"Height above sea level (meters)","titleY":170,"grid":false,"domain":false,"tickColor":"#c8c8c8","tickSize":6,"tickWidth":1.5,"labelFont":"Liberation Sans","labelFontSize":13.5,"labelColor":"#444444","labelPadding":4,"titleFont":"Liberation Sans","titleFontSize":15.5,"titleFontWeight":"normal","titleColor":"#333333","titlePadding":26,"zindex":1}}}},
{"data":{"name":"curves"},"transform":[{"fold":["g295","g300","g305","g310","g315","g320","g325","g330","g335","g340","g345"],"as":["lvl","y"]}],
 "mark":{"type":"line","color":"#000000","opacity":0.09,"strokeWidth":1.5,"interpolate":"monotone"},
 "encoding":{"x":{"field":"d","type":"quantitative","scale":{"domain":[0,8.922],"nice":false,"zero":false},
   "axis":{"orient":"bottom","values":[0,1.24274,2.48548,3.72823,4.97097,6.21371,7.45645,8.6992],"format":".1f","labelFlush":false,"labelOverlap":false,"title":"Range on path (miles)","grid":true,"gridColor":"#000000","gridOpacity":0.1,"gridWidth":1.5,"domain":false,"tickColor":"#c8c8c8","tickSize":6,"tickWidth":1.5,"labelFont":"Liberation Sans","labelFontSize":13.5,"labelColor":"#444444","labelPadding":6,"titleFont":"Liberation Sans","titleFontSize":15,"titleFontWeight":"normal","titleColor":"#333333","titlePadding":10,"zindex":1}},
 "y":{"field":"y","type":"quantitative","scale":{"domain":[292.4,349.87],"nice":false,"zero":false},"axis":null},"detail":{"field":"lvl","type":"nominal"}}},
{"data":{"name":"one"},"mark":{"type":"text","text":"Network Site 047","font":"Liberation Sans","fontSize":13,"color":"#333333","align":"left","baseline":"middle"},
 "encoding":{"x":{"datum":0.0527,"type":"quantitative","scale":{"domain":[0,8.922],"nice":false,"zero":false},"axis":null},
 "y":{"datum":351.17,"type":"quantitative","scale":{"domain":[292.4,349.87],"nice":false,"zero":false},"axis":null}}},
{"data":{"name":"one"},"mark":{"type":"text","text":"Network Site 048","font":"Liberation Sans","fontSize":13,"color":"#333333","align":"right","baseline":"middle"},
 "encoding":{"x":{"datum":8.8916,"type":"quantitative","scale":{"domain":[0,8.922],"nice":false,"zero":false},"axis":null},
 "y":{"datum":351.17,"type":"quantitative","scale":{"domain":[292.4,349.87],"nice":false,"zero":false},"axis":null}}}
],
"resolve": {"axis": {"x": "independent", "y": "independent"}}
}
